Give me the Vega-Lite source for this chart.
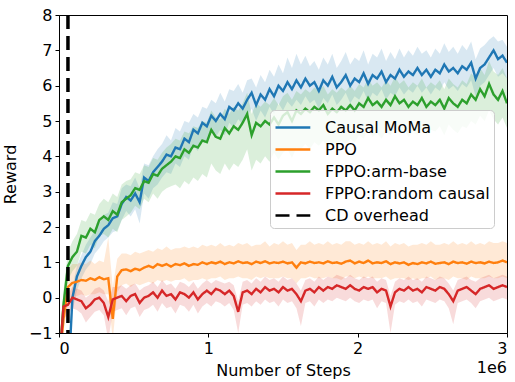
{
"$schema":"https://vega.github.io/schema/vega-lite/v6.json",
"width":448,"height":318,
"autosize":{"type":"none"},
"padding":{"left":59,"top":15,"right":8,"bottom":49},
"background":"white",
"config":{
 "font":"DejaVu Sans",
 "view":{"stroke":"black","strokeWidth":1},
 "axis":{"grid":false,"domainColor":"black","tickColor":"black","tickSize":4,"labelColor":"black","titleColor":"black","labelFontSize":16,"titleFontSize":16,"titleFontWeight":"normal","labelFont":"DejaVu Sans","titleFont":"DejaVu Sans","labelOverlap":false},
 "legend":{"labelFontSize":16,"labelFont":"DejaVu Sans","labelColor":"black","symbolSize":576,"symbolStrokeWidth":2.5,"rowPadding":0,"padding":4,"fillColor":"rgba(255,255,255,0.8)","strokeColor":"#cccccc","cornerRadius":4,"labelOffset":24,"labelLimit":300}
},
"datasets":{
"curves":[
{"series":"Causal MoMa","step":0.00,"reward":-4,"lo":-4,"hi":-4},
{"series":"Causal MoMa","step":0.03,"reward":-4,"lo":-4,"hi":-4},
{"series":"Causal MoMa","step":0.06,"reward":-2.5,"lo":-3,"hi":-2},
{"series":"Causal MoMa","step":0.09,"reward":0.0,"lo":-0.4,"hi":0.3},
{"series":"Causal MoMa","step":0.12,"reward":0.6,"lo":0.2,"hi":0.9},
{"series":"Causal MoMa","step":0.15,"reward":0.9,"lo":0.55,"hi":1.2},
{"series":"Causal MoMa","step":0.18,"reward":1.15,"lo":0.8,"hi":1.5},
{"series":"Causal MoMa","step":0.21,"reward":1.3,"lo":0.95,"hi":1.7},
{"series":"Causal MoMa","step":0.24,"reward":1.6,"lo":1.25,"hi":1.9},
{"series":"Causal MoMa","step":0.27,"reward":1.75,"lo":1.4,"hi":2.1},
{"series":"Causal MoMa","step":0.30,"reward":1.95,"lo":1.6,"hi":2.35},
{"series":"Causal MoMa","step":0.33,"reward":2.05,"lo":1.7,"hi":2.4},
{"series":"Causal MoMa","step":0.36,"reward":2.25,"lo":1.85,"hi":2.7},
{"series":"Causal MoMa","step":0.39,"reward":2.3,"lo":1.9,"hi":2.65},
{"series":"Causal MoMa","step":0.42,"reward":2.65,"lo":2.2,"hi":3.1},
{"series":"Causal MoMa","step":0.45,"reward":2.85,"lo":2.45,"hi":3.2},
{"series":"Causal MoMa","step":0.48,"reward":2.75,"lo":2.3,"hi":3.15},
{"series":"Causal MoMa","step":0.51,"reward":2.95,"lo":2.5,"hi":3.4},
{"series":"Causal MoMa","step":0.54,"reward":2.7,"lo":2.1,"hi":3.1},
{"series":"Causal MoMa","step":0.57,"reward":3.4,"lo":2.95,"hi":3.8},
{"series":"Causal MoMa","step":0.60,"reward":3.3,"lo":2.8,"hi":3.75},
{"series":"Causal MoMa","step":0.63,"reward":3.55,"lo":3.1,"hi":4.0},
{"series":"Causal MoMa","step":0.66,"reward":3.7,"lo":3.2,"hi":4.2},
{"series":"Causal MoMa","step":0.69,"reward":3.85,"lo":3.4,"hi":4.35},
{"series":"Causal MoMa","step":0.72,"reward":4.05,"lo":3.55,"hi":4.6},
{"series":"Causal MoMa","step":0.75,"reward":4.0,"lo":3.5,"hi":4.45},
{"series":"Causal MoMa","step":0.78,"reward":4.25,"lo":3.8,"hi":4.8},
{"series":"Causal MoMa","step":0.81,"reward":4.2,"lo":3.7,"hi":4.7},
{"series":"Causal MoMa","step":0.84,"reward":4.5,"lo":4.0,"hi":5.0},
{"series":"Causal MoMa","step":0.87,"reward":4.4,"lo":3.9,"hi":4.95},
{"series":"Causal MoMa","step":0.90,"reward":4.75,"lo":4.3,"hi":5.2},
{"series":"Causal MoMa","step":0.93,"reward":4.65,"lo":4.15,"hi":5.1},
{"series":"Causal MoMa","step":0.96,"reward":4.95,"lo":4.5,"hi":5.4},
{"series":"Causal MoMa","step":0.99,"reward":4.85,"lo":4.4,"hi":5.35},
{"series":"Causal MoMa","step":1.02,"reward":5.15,"lo":4.7,"hi":5.6},
{"series":"Causal MoMa","step":1.05,"reward":5.0,"lo":4.55,"hi":5.5},
{"series":"Causal MoMa","step":1.08,"reward":5.2,"lo":4.75,"hi":5.8},
{"series":"Causal MoMa","step":1.11,"reward":5.05,"lo":4.6,"hi":5.55},
{"series":"Causal MoMa","step":1.14,"reward":5.4,"lo":4.95,"hi":5.9},
{"series":"Causal MoMa","step":1.17,"reward":5.3,"lo":4.8,"hi":5.85},
{"series":"Causal MoMa","step":1.20,"reward":5.5,"lo":5.05,"hi":6.05},
{"series":"Causal MoMa","step":1.23,"reward":5.35,"lo":4.9,"hi":5.8},
{"series":"Causal MoMa","step":1.26,"reward":5.6,"lo":5.15,"hi":6.15},
{"series":"Causal MoMa","step":1.29,"reward":5.8,"lo":5.35,"hi":6.2},
{"series":"Causal MoMa","step":1.32,"reward":5.45,"lo":5.0,"hi":5.95},
{"series":"Causal MoMa","step":1.35,"reward":5.75,"lo":5.3,"hi":6.3},
{"series":"Causal MoMa","step":1.38,"reward":5.6,"lo":5.1,"hi":6.1},
{"series":"Causal MoMa","step":1.41,"reward":5.9,"lo":5.4,"hi":6.45},
{"series":"Causal MoMa","step":1.44,"reward":5.7,"lo":5.2,"hi":6.25},
{"series":"Causal MoMa","step":1.47,"reward":6.0,"lo":5.5,"hi":6.6},
{"series":"Causal MoMa","step":1.50,"reward":5.85,"lo":5.3,"hi":6.35},
{"series":"Causal MoMa","step":1.53,"reward":6.1,"lo":5.55,"hi":6.8},
{"series":"Causal MoMa","step":1.56,"reward":5.9,"lo":5.4,"hi":6.5},
{"series":"Causal MoMa","step":1.59,"reward":6.15,"lo":5.6,"hi":6.9},
{"series":"Causal MoMa","step":1.62,"reward":5.95,"lo":5.45,"hi":6.6},
{"series":"Causal MoMa","step":1.65,"reward":6.2,"lo":5.7,"hi":6.85},
{"series":"Causal MoMa","step":1.68,"reward":6.0,"lo":5.5,"hi":6.55},
{"series":"Causal MoMa","step":1.71,"reward":6.1,"lo":5.6,"hi":6.7},
{"series":"Causal MoMa","step":1.74,"reward":5.85,"lo":5.35,"hi":6.45},
{"series":"Causal MoMa","step":1.77,"reward":6.15,"lo":5.65,"hi":6.8},
{"series":"Causal MoMa","step":1.80,"reward":6.0,"lo":5.5,"hi":6.6},
{"series":"Causal MoMa","step":1.83,"reward":6.25,"lo":5.75,"hi":6.9},
{"series":"Causal MoMa","step":1.86,"reward":5.95,"lo":5.45,"hi":6.5},
{"series":"Causal MoMa","step":1.89,"reward":6.1,"lo":5.6,"hi":6.7},
{"series":"Causal MoMa","step":1.92,"reward":6.3,"lo":5.8,"hi":6.95},
{"series":"Causal MoMa","step":1.95,"reward":6.0,"lo":5.5,"hi":6.6},
{"series":"Causal MoMa","step":1.98,"reward":6.2,"lo":5.7,"hi":6.8},
{"series":"Causal MoMa","step":2.01,"reward":6.1,"lo":5.6,"hi":6.7},
{"series":"Causal MoMa","step":2.04,"reward":6.35,"lo":5.85,"hi":7.0},
{"series":"Causal MoMa","step":2.07,"reward":6.05,"lo":5.55,"hi":6.6},
{"series":"Causal MoMa","step":2.10,"reward":6.3,"lo":5.8,"hi":6.9},
{"series":"Causal MoMa","step":2.13,"reward":6.2,"lo":5.7,"hi":6.8},
{"series":"Causal MoMa","step":2.16,"reward":6.4,"lo":5.9,"hi":7.05},
{"series":"Causal MoMa","step":2.19,"reward":6.1,"lo":5.6,"hi":6.7},
{"series":"Causal MoMa","step":2.22,"reward":6.3,"lo":5.8,"hi":6.95},
{"series":"Causal MoMa","step":2.25,"reward":6.2,"lo":5.7,"hi":6.75},
{"series":"Causal MoMa","step":2.28,"reward":6.45,"lo":5.95,"hi":7.05},
{"series":"Causal MoMa","step":2.31,"reward":6.25,"lo":5.75,"hi":6.8},
{"series":"Causal MoMa","step":2.34,"reward":6.4,"lo":5.9,"hi":7.0},
{"series":"Causal MoMa","step":2.37,"reward":6.3,"lo":5.8,"hi":6.85},
{"series":"Causal MoMa","step":2.40,"reward":6.5,"lo":6.0,"hi":7.1},
{"series":"Causal MoMa","step":2.43,"reward":6.3,"lo":5.8,"hi":6.9},
{"series":"Causal MoMa","step":2.46,"reward":6.45,"lo":5.95,"hi":7.0},
{"series":"Causal MoMa","step":2.49,"reward":6.25,"lo":5.75,"hi":6.8},
{"series":"Causal MoMa","step":2.52,"reward":6.45,"lo":5.95,"hi":7.05},
{"series":"Causal MoMa","step":2.55,"reward":6.35,"lo":5.85,"hi":6.9},
{"series":"Causal MoMa","step":2.58,"reward":6.6,"lo":6.1,"hi":7.2},
{"series":"Causal MoMa","step":2.61,"reward":6.4,"lo":5.9,"hi":6.95},
{"series":"Causal MoMa","step":2.64,"reward":6.5,"lo":6.0,"hi":7.1},
{"series":"Causal MoMa","step":2.67,"reward":6.35,"lo":5.85,"hi":6.9},
{"series":"Causal MoMa","step":2.70,"reward":6.55,"lo":6.05,"hi":7.15},
{"series":"Causal MoMa","step":2.73,"reward":6.45,"lo":5.95,"hi":7.0},
{"series":"Causal MoMa","step":2.76,"reward":6.65,"lo":6.15,"hi":7.25},
{"series":"Causal MoMa","step":2.79,"reward":6.2,"lo":5.7,"hi":6.75},
{"series":"Causal MoMa","step":2.82,"reward":6.5,"lo":6.0,"hi":7.05},
{"series":"Causal MoMa","step":2.85,"reward":6.6,"lo":6.1,"hi":7.15},
{"series":"Causal MoMa","step":2.88,"reward":6.8,"lo":6.3,"hi":7.3},
{"series":"Causal MoMa","step":2.91,"reward":7.0,"lo":6.5,"hi":7.4},
{"series":"Causal MoMa","step":2.94,"reward":6.75,"lo":6.25,"hi":7.25},
{"series":"Causal MoMa","step":2.97,"reward":6.85,"lo":6.35,"hi":7.3},
{"series":"Causal MoMa","step":3.00,"reward":6.65,"lo":6.2,"hi":7.1},
{"series":"PPO","step":0.00,"reward":-2,"lo":-2.5,"hi":-1.5},
{"series":"PPO","step":0.03,"reward":-0.6,"lo":-1.0,"hi":-0.2},
{"series":"PPO","step":0.06,"reward":0.3,"lo":-0.1,"hi":0.8},
{"series":"PPO","step":0.09,"reward":0.42,"lo":0.0,"hi":0.95},
{"series":"PPO","step":0.12,"reward":0.45,"lo":0.05,"hi":0.95},
{"series":"PPO","step":0.15,"reward":0.5,"lo":0.1,"hi":1.0},
{"series":"PPO","step":0.18,"reward":0.48,"lo":0.05,"hi":0.95},
{"series":"PPO","step":0.21,"reward":0.55,"lo":0.1,"hi":1.05},
{"series":"PPO","step":0.24,"reward":0.5,"lo":0.1,"hi":0.95},
{"series":"PPO","step":0.27,"reward":0.58,"lo":0.15,"hi":1.05},
{"series":"PPO","step":0.30,"reward":0.52,"lo":0.1,"hi":1.0},
{"series":"PPO","step":0.33,"reward":0.55,"lo":0.1,"hi":1.7},
{"series":"PPO","step":0.36,"reward":-0.6,"lo":-1.2,"hi":0.3},
{"series":"PPO","step":0.39,"reward":0.6,"lo":0.15,"hi":1.1},
{"series":"PPO","step":0.42,"reward":0.78,"lo":0.35,"hi":1.25},
{"series":"PPO","step":0.45,"reward":0.8,"lo":0.4,"hi":1.25},
{"series":"PPO","step":0.48,"reward":0.75,"lo":0.3,"hi":1.2},
{"series":"PPO","step":0.51,"reward":0.82,"lo":0.4,"hi":1.3},
{"series":"PPO","step":0.54,"reward":0.78,"lo":0.35,"hi":1.25},
{"series":"PPO","step":0.57,"reward":0.85,"lo":0.4,"hi":1.3},
{"series":"PPO","step":0.60,"reward":0.9,"lo":0.45,"hi":1.35},
{"series":"PPO","step":0.63,"reward":0.85,"lo":0.4,"hi":1.3},
{"series":"PPO","step":0.66,"reward":0.95,"lo":0.5,"hi":1.4},
{"series":"PPO","step":0.69,"reward":0.9,"lo":0.45,"hi":1.35},
{"series":"PPO","step":0.72,"reward":0.95,"lo":0.5,"hi":1.45},
{"series":"PPO","step":0.75,"reward":0.88,"lo":0.45,"hi":1.35},
{"series":"PPO","step":0.78,"reward":0.95,"lo":0.5,"hi":1.4},
{"series":"PPO","step":0.81,"reward":0.92,"lo":0.5,"hi":1.4},
{"series":"PPO","step":0.84,"reward":0.97,"lo":0.55,"hi":1.45},
{"series":"PPO","step":0.87,"reward":0.9,"lo":0.45,"hi":1.4},
{"series":"PPO","step":0.90,"reward":0.95,"lo":0.5,"hi":1.45},
{"series":"PPO","step":0.93,"reward":0.93,"lo":0.5,"hi":1.4},
{"series":"PPO","step":0.96,"reward":1.0,"lo":0.55,"hi":1.5},
{"series":"PPO","step":0.99,"reward":0.95,"lo":0.5,"hi":1.45},
{"series":"PPO","step":1.02,"reward":1.0,"lo":0.55,"hi":1.5},
{"series":"PPO","step":1.05,"reward":0.97,"lo":0.55,"hi":1.45},
{"series":"PPO","step":1.08,"reward":1.02,"lo":0.6,"hi":1.55},
{"series":"PPO","step":1.11,"reward":0.95,"lo":0.5,"hi":1.45},
{"series":"PPO","step":1.14,"reward":1.0,"lo":0.55,"hi":1.5},
{"series":"PPO","step":1.17,"reward":0.97,"lo":0.55,"hi":1.45},
{"series":"PPO","step":1.20,"reward":1.03,"lo":0.6,"hi":1.55},
{"series":"PPO","step":1.23,"reward":0.98,"lo":0.55,"hi":1.5},
{"series":"PPO","step":1.26,"reward":1.0,"lo":0.55,"hi":1.55},
{"series":"PPO","step":1.29,"reward":0.95,"lo":0.5,"hi":1.45},
{"series":"PPO","step":1.32,"reward":1.02,"lo":0.6,"hi":1.5},
{"series":"PPO","step":1.35,"reward":0.98,"lo":0.55,"hi":1.5},
{"series":"PPO","step":1.38,"reward":1.03,"lo":0.6,"hi":1.6},
{"series":"PPO","step":1.41,"reward":0.97,"lo":0.55,"hi":1.45},
{"series":"PPO","step":1.44,"reward":1.0,"lo":0.55,"hi":1.55},
{"series":"PPO","step":1.47,"reward":0.98,"lo":0.55,"hi":1.5},
{"series":"PPO","step":1.50,"reward":1.02,"lo":0.6,"hi":1.6},
{"series":"PPO","step":1.53,"reward":0.97,"lo":0.55,"hi":1.5},
{"series":"PPO","step":1.56,"reward":1.0,"lo":0.55,"hi":1.55},
{"series":"PPO","step":1.59,"reward":0.85,"lo":0.4,"hi":1.35},
{"series":"PPO","step":1.62,"reward":1.0,"lo":0.55,"hi":1.5},
{"series":"PPO","step":1.65,"reward":0.97,"lo":0.55,"hi":1.5},
{"series":"PPO","step":1.68,"reward":1.02,"lo":0.6,"hi":1.6},
{"series":"PPO","step":1.71,"reward":0.98,"lo":0.55,"hi":1.5},
{"series":"PPO","step":1.74,"reward":1.0,"lo":0.55,"hi":1.55},
{"series":"PPO","step":1.77,"reward":0.97,"lo":0.55,"hi":1.5},
{"series":"PPO","step":1.80,"reward":1.03,"lo":0.6,"hi":1.6},
{"series":"PPO","step":1.83,"reward":0.98,"lo":0.55,"hi":1.5},
{"series":"PPO","step":1.86,"reward":1.0,"lo":0.55,"hi":1.55},
{"series":"PPO","step":1.89,"reward":0.96,"lo":0.5,"hi":1.5},
{"series":"PPO","step":1.92,"reward":1.02,"lo":0.6,"hi":1.6},
{"series":"PPO","step":1.95,"reward":1.05,"lo":0.6,"hi":1.6},
{"series":"PPO","step":1.98,"reward":0.97,"lo":0.55,"hi":1.5},
{"series":"PPO","step":2.01,"reward":1.02,"lo":0.6,"hi":1.55},
{"series":"PPO","step":2.04,"reward":0.98,"lo":0.55,"hi":1.5},
{"series":"PPO","step":2.07,"reward":1.05,"lo":0.6,"hi":1.6},
{"series":"PPO","step":2.10,"reward":0.97,"lo":0.55,"hi":1.5},
{"series":"PPO","step":2.13,"reward":1.0,"lo":0.55,"hi":1.55},
{"series":"PPO","step":2.16,"reward":0.98,"lo":0.55,"hi":1.5},
{"series":"PPO","step":2.19,"reward":1.03,"lo":0.6,"hi":1.6},
{"series":"PPO","step":2.22,"reward":0.95,"lo":0.5,"hi":1.45},
{"series":"PPO","step":2.25,"reward":1.0,"lo":0.55,"hi":1.55},
{"series":"PPO","step":2.28,"reward":0.97,"lo":0.55,"hi":1.5},
{"series":"PPO","step":2.31,"reward":1.0,"lo":0.55,"hi":1.55},
{"series":"PPO","step":2.34,"reward":0.93,"lo":0.5,"hi":1.45},
{"series":"PPO","step":2.37,"reward":0.98,"lo":0.55,"hi":1.5},
{"series":"PPO","step":2.40,"reward":0.95,"lo":0.5,"hi":1.5},
{"series":"PPO","step":2.43,"reward":1.0,"lo":0.55,"hi":1.55},
{"series":"PPO","step":2.46,"reward":0.97,"lo":0.55,"hi":1.5},
{"series":"PPO","step":2.49,"reward":1.02,"lo":0.6,"hi":1.6},
{"series":"PPO","step":2.52,"reward":0.96,"lo":0.5,"hi":1.5},
{"series":"PPO","step":2.55,"reward":0.98,"lo":0.55,"hi":1.5},
{"series":"PPO","step":2.58,"reward":1.0,"lo":0.55,"hi":1.55},
{"series":"PPO","step":2.61,"reward":0.95,"lo":0.5,"hi":1.5},
{"series":"PPO","step":2.64,"reward":1.02,"lo":0.6,"hi":1.6},
{"series":"PPO","step":2.67,"reward":0.98,"lo":0.55,"hi":1.5},
{"series":"PPO","step":2.70,"reward":1.0,"lo":0.55,"hi":1.55},
{"series":"PPO","step":2.73,"reward":0.96,"lo":0.5,"hi":1.5},
{"series":"PPO","step":2.76,"reward":1.02,"lo":0.6,"hi":1.6},
{"series":"PPO","step":2.79,"reward":0.98,"lo":0.55,"hi":1.5},
{"series":"PPO","step":2.82,"reward":1.0,"lo":0.55,"hi":1.55},
{"series":"PPO","step":2.85,"reward":0.97,"lo":0.55,"hi":1.5},
{"series":"PPO","step":2.88,"reward":1.02,"lo":0.6,"hi":1.6},
{"series":"PPO","step":2.91,"reward":0.98,"lo":0.55,"hi":1.55},
{"series":"PPO","step":2.94,"reward":1.0,"lo":0.55,"hi":1.55},
{"series":"PPO","step":2.97,"reward":1.05,"lo":0.6,"hi":1.6},
{"series":"PPO","step":3.00,"reward":1.0,"lo":0.55,"hi":1.55},
{"series":"FPPO:arm-base","step":0.00,"reward":-2,"lo":-2.5,"hi":-1.5},
{"series":"FPPO:arm-base","step":0.03,"reward":-0.2,"lo":-0.6,"hi":0.2},
{"series":"FPPO:arm-base","step":0.06,"reward":0.9,"lo":0.5,"hi":1.3},
{"series":"FPPO:arm-base","step":0.09,"reward":1.15,"lo":0.75,"hi":1.6},
{"series":"FPPO:arm-base","step":0.12,"reward":1.3,"lo":0.9,"hi":1.8},
{"series":"FPPO:arm-base","step":0.15,"reward":1.75,"lo":1.3,"hi":2.2},
{"series":"FPPO:arm-base","step":0.18,"reward":1.7,"lo":1.25,"hi":2.15},
{"series":"FPPO:arm-base","step":0.21,"reward":1.95,"lo":1.5,"hi":2.4},
{"series":"FPPO:arm-base","step":0.24,"reward":1.85,"lo":1.4,"hi":2.35},
{"series":"FPPO:arm-base","step":0.27,"reward":2.2,"lo":1.75,"hi":2.65},
{"series":"FPPO:arm-base","step":0.30,"reward":2.3,"lo":1.8,"hi":2.8},
{"series":"FPPO:arm-base","step":0.33,"reward":2.2,"lo":1.7,"hi":2.7},
{"series":"FPPO:arm-base","step":0.36,"reward":2.45,"lo":1.95,"hi":2.95},
{"series":"FPPO:arm-base","step":0.39,"reward":2.35,"lo":1.85,"hi":2.85},
{"series":"FPPO:arm-base","step":0.42,"reward":2.7,"lo":2.2,"hi":3.2},
{"series":"FPPO:arm-base","step":0.45,"reward":2.8,"lo":2.3,"hi":3.3},
{"series":"FPPO:arm-base","step":0.48,"reward":2.9,"lo":2.4,"hi":3.35},
{"series":"FPPO:arm-base","step":0.51,"reward":3.1,"lo":2.6,"hi":3.55},
{"series":"FPPO:arm-base","step":0.54,"reward":3.05,"lo":2.5,"hi":3.5},
{"series":"FPPO:arm-base","step":0.57,"reward":3.3,"lo":2.8,"hi":3.75},
{"series":"FPPO:arm-base","step":0.60,"reward":3.25,"lo":2.7,"hi":3.7},
{"series":"FPPO:arm-base","step":0.63,"reward":3.5,"lo":2.95,"hi":3.95},
{"series":"FPPO:arm-base","step":0.66,"reward":3.45,"lo":2.8,"hi":3.9},
{"series":"FPPO:arm-base","step":0.69,"reward":3.65,"lo":3.0,"hi":4.1},
{"series":"FPPO:arm-base","step":0.72,"reward":3.75,"lo":3.1,"hi":4.25},
{"series":"FPPO:arm-base","step":0.75,"reward":3.85,"lo":3.15,"hi":4.35},
{"series":"FPPO:arm-base","step":0.78,"reward":4.0,"lo":3.2,"hi":4.5},
{"series":"FPPO:arm-base","step":0.81,"reward":3.95,"lo":3.1,"hi":4.45},
{"series":"FPPO:arm-base","step":0.84,"reward":4.2,"lo":3.3,"hi":4.7},
{"series":"FPPO:arm-base","step":0.87,"reward":4.1,"lo":3.2,"hi":4.65},
{"series":"FPPO:arm-base","step":0.90,"reward":4.3,"lo":3.4,"hi":4.85},
{"series":"FPPO:arm-base","step":0.93,"reward":4.25,"lo":3.3,"hi":4.8},
{"series":"FPPO:arm-base","step":0.96,"reward":4.45,"lo":3.5,"hi":5.0},
{"series":"FPPO:arm-base","step":0.99,"reward":4.4,"lo":3.4,"hi":4.95},
{"series":"FPPO:arm-base","step":1.02,"reward":4.75,"lo":3.8,"hi":5.3},
{"series":"FPPO:arm-base","step":1.05,"reward":4.55,"lo":3.6,"hi":5.1},
{"series":"FPPO:arm-base","step":1.08,"reward":4.5,"lo":3.5,"hi":5.05},
{"series":"FPPO:arm-base","step":1.11,"reward":4.8,"lo":3.8,"hi":5.35},
{"series":"FPPO:arm-base","step":1.14,"reward":4.65,"lo":3.6,"hi":5.2},
{"series":"FPPO:arm-base","step":1.17,"reward":4.85,"lo":3.8,"hi":5.4},
{"series":"FPPO:arm-base","step":1.20,"reward":4.75,"lo":3.7,"hi":5.3},
{"series":"FPPO:arm-base","step":1.23,"reward":4.95,"lo":3.9,"hi":5.5},
{"series":"FPPO:arm-base","step":1.26,"reward":5.2,"lo":4.2,"hi":5.8},
{"series":"FPPO:arm-base","step":1.29,"reward":4.6,"lo":3.6,"hi":5.2},
{"series":"FPPO:arm-base","step":1.32,"reward":4.95,"lo":3.9,"hi":5.5},
{"series":"FPPO:arm-base","step":1.35,"reward":4.85,"lo":3.8,"hi":5.4},
{"series":"FPPO:arm-base","step":1.38,"reward":5.0,"lo":4.0,"hi":5.55},
{"series":"FPPO:arm-base","step":1.41,"reward":4.9,"lo":3.85,"hi":5.45},
{"series":"FPPO:arm-base","step":1.44,"reward":5.1,"lo":4.1,"hi":5.65},
{"series":"FPPO:arm-base","step":1.47,"reward":4.9,"lo":3.9,"hi":5.45},
{"series":"FPPO:arm-base","step":1.50,"reward":5.15,"lo":4.1,"hi":5.7},
{"series":"FPPO:arm-base","step":1.53,"reward":5.25,"lo":4.2,"hi":5.8},
{"series":"FPPO:arm-base","step":1.56,"reward":5.0,"lo":3.95,"hi":5.6},
{"series":"FPPO:arm-base","step":1.59,"reward":5.3,"lo":4.25,"hi":5.85},
{"series":"FPPO:arm-base","step":1.62,"reward":5.2,"lo":4.2,"hi":5.75},
{"series":"FPPO:arm-base","step":1.65,"reward":5.35,"lo":4.35,"hi":5.9},
{"series":"FPPO:arm-base","step":1.68,"reward":5.25,"lo":4.2,"hi":5.8},
{"series":"FPPO:arm-base","step":1.71,"reward":5.4,"lo":4.4,"hi":5.95},
{"series":"FPPO:arm-base","step":1.74,"reward":5.3,"lo":4.3,"hi":5.85},
{"series":"FPPO:arm-base","step":1.77,"reward":5.45,"lo":4.45,"hi":6.0},
{"series":"FPPO:arm-base","step":1.80,"reward":5.2,"lo":4.2,"hi":5.75},
{"series":"FPPO:arm-base","step":1.83,"reward":5.35,"lo":4.4,"hi":5.9},
{"series":"FPPO:arm-base","step":1.86,"reward":5.25,"lo":4.3,"hi":5.8},
{"series":"FPPO:arm-base","step":1.89,"reward":5.4,"lo":4.45,"hi":5.95},
{"series":"FPPO:arm-base","step":1.92,"reward":5.3,"lo":4.35,"hi":5.85},
{"series":"FPPO:arm-base","step":1.95,"reward":5.45,"lo":4.5,"hi":6.0},
{"series":"FPPO:arm-base","step":1.98,"reward":5.3,"lo":4.4,"hi":5.85},
{"series":"FPPO:arm-base","step":2.01,"reward":5.5,"lo":4.6,"hi":6.05},
{"series":"FPPO:arm-base","step":2.04,"reward":5.4,"lo":4.5,"hi":5.95},
{"series":"FPPO:arm-base","step":2.07,"reward":5.65,"lo":4.75,"hi":6.2},
{"series":"FPPO:arm-base","step":2.10,"reward":5.45,"lo":4.55,"hi":6.0},
{"series":"FPPO:arm-base","step":2.13,"reward":5.55,"lo":4.65,"hi":6.1},
{"series":"FPPO:arm-base","step":2.16,"reward":5.4,"lo":4.5,"hi":5.95},
{"series":"FPPO:arm-base","step":2.19,"reward":5.6,"lo":4.7,"hi":6.15},
{"series":"FPPO:arm-base","step":2.22,"reward":5.45,"lo":4.6,"hi":6.0},
{"series":"FPPO:arm-base","step":2.25,"reward":5.7,"lo":4.8,"hi":6.25},
{"series":"FPPO:arm-base","step":2.28,"reward":5.5,"lo":4.65,"hi":6.05},
{"series":"FPPO:arm-base","step":2.31,"reward":5.6,"lo":4.75,"hi":6.15},
{"series":"FPPO:arm-base","step":2.34,"reward":5.4,"lo":4.55,"hi":5.95},
{"series":"FPPO:arm-base","step":2.37,"reward":5.55,"lo":4.7,"hi":6.1},
{"series":"FPPO:arm-base","step":2.40,"reward":5.45,"lo":4.6,"hi":6.0},
{"series":"FPPO:arm-base","step":2.43,"reward":5.65,"lo":4.8,"hi":6.2},
{"series":"FPPO:arm-base","step":2.46,"reward":5.4,"lo":4.6,"hi":5.95},
{"series":"FPPO:arm-base","step":2.49,"reward":5.55,"lo":4.75,"hi":6.1},
{"series":"FPPO:arm-base","step":2.52,"reward":5.45,"lo":4.7,"hi":6.0},
{"series":"FPPO:arm-base","step":2.55,"reward":5.6,"lo":4.85,"hi":6.15},
{"series":"FPPO:arm-base","step":2.58,"reward":5.35,"lo":4.6,"hi":5.9},
{"series":"FPPO:arm-base","step":2.61,"reward":5.65,"lo":4.9,"hi":6.2},
{"series":"FPPO:arm-base","step":2.64,"reward":5.5,"lo":4.75,"hi":6.05},
{"series":"FPPO:arm-base","step":2.67,"reward":5.4,"lo":4.65,"hi":5.95},
{"series":"FPPO:arm-base","step":2.70,"reward":5.6,"lo":4.85,"hi":6.15},
{"series":"FPPO:arm-base","step":2.73,"reward":5.5,"lo":4.8,"hi":6.05},
{"series":"FPPO:arm-base","step":2.76,"reward":5.75,"lo":5.0,"hi":6.35},
{"series":"FPPO:arm-base","step":2.79,"reward":5.6,"lo":4.9,"hi":6.2},
{"series":"FPPO:arm-base","step":2.82,"reward":5.9,"lo":5.15,"hi":6.5},
{"series":"FPPO:arm-base","step":2.85,"reward":5.7,"lo":5.0,"hi":6.3},
{"series":"FPPO:arm-base","step":2.88,"reward":6.05,"lo":5.3,"hi":6.7},
{"series":"FPPO:arm-base","step":2.91,"reward":5.75,"lo":5.05,"hi":6.4},
{"series":"FPPO:arm-base","step":2.94,"reward":5.6,"lo":4.9,"hi":6.3},
{"series":"FPPO:arm-base","step":2.97,"reward":5.85,"lo":5.1,"hi":6.5},
{"series":"FPPO:arm-base","step":3.00,"reward":5.5,"lo":4.8,"hi":6.2},
{"series":"FPPO:random causal","step":0.00,"reward":-2,"lo":-2.5,"hi":-1.5},
{"series":"FPPO:random causal","step":0.03,"reward":-0.25,"lo":-0.6,"hi":0.1},
{"series":"FPPO:random causal","step":0.06,"reward":-0.2,"lo":-0.5,"hi":0.1},
{"series":"FPPO:random causal","step":0.09,"reward":0.0,"lo":-0.3,"hi":0.3},
{"series":"FPPO:random causal","step":0.12,"reward":-0.05,"lo":-0.35,"hi":0.25},
{"series":"FPPO:random causal","step":0.15,"reward":-0.1,"lo":-0.45,"hi":0.2},
{"series":"FPPO:random causal","step":0.18,"reward":-0.3,"lo":-0.7,"hi":0.0},
{"series":"FPPO:random causal","step":0.21,"reward":-0.2,"lo":-0.55,"hi":0.1},
{"series":"FPPO:random causal","step":0.24,"reward":-0.05,"lo":-0.4,"hi":0.25},
{"series":"FPPO:random causal","step":0.27,"reward":0.0,"lo":-0.35,"hi":0.3},
{"series":"FPPO:random causal","step":0.30,"reward":-0.15,"lo":-0.5,"hi":0.2},
{"series":"FPPO:random causal","step":0.33,"reward":-0.55,"lo":-1.2,"hi":-0.1},
{"series":"FPPO:random causal","step":0.36,"reward":-0.05,"lo":-0.4,"hi":0.3},
{"series":"FPPO:random causal","step":0.39,"reward":0.0,"lo":-0.35,"hi":0.3},
{"series":"FPPO:random causal","step":0.42,"reward":0.05,"lo":-0.3,"hi":0.35},
{"series":"FPPO:random causal","step":0.45,"reward":-0.1,"lo":-0.5,"hi":0.25},
{"series":"FPPO:random causal","step":0.48,"reward":0.05,"lo":-0.3,"hi":0.35},
{"series":"FPPO:random causal","step":0.51,"reward":0.1,"lo":-0.25,"hi":0.4},
{"series":"FPPO:random causal","step":0.54,"reward":-0.15,"lo":-0.55,"hi":0.2},
{"series":"FPPO:random causal","step":0.57,"reward":0.0,"lo":-0.35,"hi":0.3},
{"series":"FPPO:random causal","step":0.60,"reward":0.05,"lo":-0.3,"hi":0.35},
{"series":"FPPO:random causal","step":0.63,"reward":0.15,"lo":-0.2,"hi":0.45},
{"series":"FPPO:random causal","step":0.66,"reward":0.0,"lo":-0.4,"hi":0.3},
{"series":"FPPO:random causal","step":0.69,"reward":0.2,"lo":-0.15,"hi":0.5},
{"series":"FPPO:random causal","step":0.72,"reward":0.05,"lo":-0.3,"hi":0.35},
{"series":"FPPO:random causal","step":0.75,"reward":0.1,"lo":-0.25,"hi":0.4},
{"series":"FPPO:random causal","step":0.78,"reward":-0.05,"lo":-0.45,"hi":0.25},
{"series":"FPPO:random causal","step":0.81,"reward":0.15,"lo":-0.2,"hi":0.45},
{"series":"FPPO:random causal","step":0.84,"reward":0.1,"lo":-0.25,"hi":0.4},
{"series":"FPPO:random causal","step":0.87,"reward":0.0,"lo":-0.4,"hi":0.3},
{"series":"FPPO:random causal","step":0.90,"reward":0.15,"lo":-0.2,"hi":0.45},
{"series":"FPPO:random causal","step":0.93,"reward":-0.05,"lo":-0.45,"hi":0.25},
{"series":"FPPO:random causal","step":0.96,"reward":0.1,"lo":-0.25,"hi":0.4},
{"series":"FPPO:random causal","step":0.99,"reward":0.2,"lo":-0.15,"hi":0.5},
{"series":"FPPO:random causal","step":1.02,"reward":0.1,"lo":-0.25,"hi":0.4},
{"series":"FPPO:random causal","step":1.05,"reward":0.25,"lo":-0.1,"hi":0.5},
{"series":"FPPO:random causal","step":1.08,"reward":0.2,"lo":-0.15,"hi":0.45},
{"series":"FPPO:random causal","step":1.11,"reward":0.1,"lo":-0.25,"hi":0.4},
{"series":"FPPO:random causal","step":1.14,"reward":0.2,"lo":-0.15,"hi":0.45},
{"series":"FPPO:random causal","step":1.17,"reward":0.05,"lo":-0.35,"hi":0.35},
{"series":"FPPO:random causal","step":1.20,"reward":-0.4,"lo":-1.0,"hi":-0.1},
{"series":"FPPO:random causal","step":1.23,"reward":0.15,"lo":-0.2,"hi":0.45},
{"series":"FPPO:random causal","step":1.26,"reward":0.2,"lo":-0.15,"hi":0.5},
{"series":"FPPO:random causal","step":1.29,"reward":0.1,"lo":-0.25,"hi":0.4},
{"series":"FPPO:random causal","step":1.32,"reward":0.25,"lo":-0.1,"hi":0.55},
{"series":"FPPO:random causal","step":1.35,"reward":0.15,"lo":-0.2,"hi":0.45},
{"series":"FPPO:random causal","step":1.38,"reward":0.3,"lo":-0.05,"hi":0.6},
{"series":"FPPO:random causal","step":1.41,"reward":0.2,"lo":-0.15,"hi":0.5},
{"series":"FPPO:random causal","step":1.44,"reward":0.25,"lo":-0.1,"hi":0.55},
{"series":"FPPO:random causal","step":1.47,"reward":0.15,"lo":-0.25,"hi":0.45},
{"series":"FPPO:random causal","step":1.50,"reward":0.3,"lo":-0.05,"hi":0.6},
{"series":"FPPO:random causal","step":1.53,"reward":0.2,"lo":-0.15,"hi":0.5},
{"series":"FPPO:random causal","step":1.56,"reward":0.25,"lo":-0.1,"hi":0.55},
{"series":"FPPO:random causal","step":1.59,"reward":0.1,"lo":-0.3,"hi":0.4},
{"series":"FPPO:random causal","step":1.62,"reward":-0.1,"lo":-0.8,"hi":0.2},
{"series":"FPPO:random causal","step":1.65,"reward":0.2,"lo":-0.15,"hi":0.5},
{"series":"FPPO:random causal","step":1.68,"reward":0.25,"lo":-0.1,"hi":0.55},
{"series":"FPPO:random causal","step":1.71,"reward":0.15,"lo":-0.25,"hi":0.45},
{"series":"FPPO:random causal","step":1.74,"reward":0.3,"lo":-0.05,"hi":0.6},
{"series":"FPPO:random causal","step":1.77,"reward":0.2,"lo":-0.15,"hi":0.5},
{"series":"FPPO:random causal","step":1.80,"reward":0.3,"lo":-0.05,"hi":0.6},
{"series":"FPPO:random causal","step":1.83,"reward":0.25,"lo":-0.1,"hi":0.55},
{"series":"FPPO:random causal","step":1.86,"reward":0.35,"lo":0.0,"hi":0.65},
{"series":"FPPO:random causal","step":1.89,"reward":0.3,"lo":-0.05,"hi":0.6},
{"series":"FPPO:random causal","step":1.92,"reward":0.25,"lo":-0.1,"hi":0.55},
{"series":"FPPO:random causal","step":1.95,"reward":0.35,"lo":0.0,"hi":0.65},
{"series":"FPPO:random causal","step":1.98,"reward":0.25,"lo":-0.1,"hi":0.55},
{"series":"FPPO:random causal","step":2.01,"reward":0.2,"lo":-0.15,"hi":0.5},
{"series":"FPPO:random causal","step":2.04,"reward":0.3,"lo":-0.05,"hi":0.6},
{"series":"FPPO:random causal","step":2.07,"reward":0.25,"lo":-0.1,"hi":0.55},
{"series":"FPPO:random causal","step":2.10,"reward":0.3,"lo":-0.05,"hi":0.6},
{"series":"FPPO:random causal","step":2.13,"reward":0.15,"lo":-0.3,"hi":0.45},
{"series":"FPPO:random causal","step":2.16,"reward":0.25,"lo":-0.1,"hi":0.55},
{"series":"FPPO:random causal","step":2.19,"reward":0.2,"lo":-0.15,"hi":0.5},
{"series":"FPPO:random causal","step":2.22,"reward":-0.25,"lo":-1.0,"hi":0.05},
{"series":"FPPO:random causal","step":2.25,"reward":0.15,"lo":-0.2,"hi":0.45},
{"series":"FPPO:random causal","step":2.28,"reward":0.25,"lo":-0.1,"hi":0.55},
{"series":"FPPO:random causal","step":2.31,"reward":0.2,"lo":-0.15,"hi":0.5},
{"series":"FPPO:random causal","step":2.34,"reward":0.3,"lo":-0.05,"hi":0.6},
{"series":"FPPO:random causal","step":2.37,"reward":0.2,"lo":-0.15,"hi":0.5},
{"series":"FPPO:random causal","step":2.40,"reward":0.25,"lo":-0.1,"hi":0.55},
{"series":"FPPO:random causal","step":2.43,"reward":0.15,"lo":-0.25,"hi":0.45},
{"series":"FPPO:random causal","step":2.46,"reward":0.3,"lo":-0.05,"hi":0.6},
{"series":"FPPO:random causal","step":2.49,"reward":0.25,"lo":-0.1,"hi":0.55},
{"series":"FPPO:random causal","step":2.52,"reward":0.2,"lo":-0.15,"hi":0.5},
{"series":"FPPO:random causal","step":2.55,"reward":0.3,"lo":-0.05,"hi":0.6},
{"series":"FPPO:random causal","step":2.58,"reward":0.25,"lo":-0.1,"hi":0.55},
{"series":"FPPO:random causal","step":2.61,"reward":0.1,"lo":-0.3,"hi":0.4},
{"series":"FPPO:random causal","step":2.64,"reward":-0.1,"lo":-0.75,"hi":0.2},
{"series":"FPPO:random causal","step":2.67,"reward":0.2,"lo":-0.15,"hi":0.5},
{"series":"FPPO:random causal","step":2.70,"reward":0.25,"lo":-0.1,"hi":0.55},
{"series":"FPPO:random causal","step":2.73,"reward":0.3,"lo":-0.05,"hi":0.6},
{"series":"FPPO:random causal","step":2.76,"reward":0.2,"lo":-0.15,"hi":0.5},
{"series":"FPPO:random causal","step":2.79,"reward":0.1,"lo":-0.3,"hi":0.45},
{"series":"FPPO:random causal","step":2.82,"reward":0.25,"lo":-0.1,"hi":0.55},
{"series":"FPPO:random causal","step":2.85,"reward":0.3,"lo":-0.05,"hi":0.6},
{"series":"FPPO:random causal","step":2.88,"reward":0.35,"lo":0.0,"hi":0.65},
{"series":"FPPO:random causal","step":2.91,"reward":0.25,"lo":-0.1,"hi":0.55},
{"series":"FPPO:random causal","step":2.94,"reward":0.3,"lo":-0.05,"hi":0.6},
{"series":"FPPO:random causal","step":2.97,"reward":0.35,"lo":0.0,"hi":0.65},
{"series":"FPPO:random causal","step":3.00,"reward":0.3,"lo":-0.05,"hi":0.6}
],
"overhead":[{"series":"CD overhead","step":0.06}],
"note":[{"step":3,"reward":-1,"label":"1e6"}]
},
"layer":[
{"data":{"name":"curves"},"mark":{"type":"area","opacity":0.17,"clip":true},
 "encoding":{
  "x":{"field":"step","type":"quantitative","scale":{"domain":[0,3],"nice":false,"zero":false},"axis":{"values":[0,1,2,3],"tickCount":4,"title":"Number of Steps","titlePadding":6,"labelPadding":3,"format":"d","labelOverlap":false}},
  "y":{"field":"lo","type":"quantitative","scale":{"domain":[-1,8],"nice":false,"zero":false},"axis":{"values":[-1,0,1,2,3,4,5,6,7,8],"tickCount":10,"title":"Reward","titlePadding":10,"labelPadding":3,"format":"d","labelOverlap":false}},
  "y2":{"field":"hi"},
  "fill":{"field":"series","type":"nominal","legend":null,"scale":{"domain":["Causal MoMa","PPO","FPPO:arm-base","FPPO:random causal"],"range":["#1f77b4","#ff7f0e","#2ca02c","#d62728"]}}
 }},
{"data":{"name":"curves"},"mark":{"type":"line","strokeWidth":2.4,"clip":true},
 "encoding":{
  "x":{"field":"step","type":"quantitative"},
  "y":{"field":"reward","type":"quantitative"},
  "color":{"field":"series","type":"nominal","title":null,"scale":{"domain":["Causal MoMa","PPO","FPPO:arm-base","FPPO:random causal","CD overhead"],"range":["#1f77b4","#ff7f0e","#2ca02c","#d62728","#000000"]},"legend":{"orient":"none","legendX":211,"legendY":95,"symbolType":"M-1,0H1.9"}},
  "strokeDash":{"field":"series","type":"nominal","title":null,"scale":{"domain":["Causal MoMa","PPO","FPPO:arm-base","FPPO:random causal","CD overhead"],"range":[[1,0],[1,0],[1,0],[1,0],[14,7]]},"legend":{"orient":"none","legendX":211,"legendY":95,"symbolType":"M-1,0H1.9"}}
 }},
{"data":{"name":"overhead"},"mark":{"type":"rule","strokeWidth":3.5},
 "encoding":{
  "x":{"field":"step","type":"quantitative"},
  "color":{"field":"series","type":"nominal"},
  "strokeDash":{"field":"series","type":"nominal"}
 }},
{"data":{"name":"note"},"mark":{"type":"text","align":"right","baseline":"middle","dy":35,"fontSize":16,"font":"DejaVu Sans","color":"black"},
 "encoding":{
  "x":{"field":"step","type":"quantitative"},
  "y":{"field":"reward","type":"quantitative"},
  "text":{"field":"label"}
 }}
]
}
